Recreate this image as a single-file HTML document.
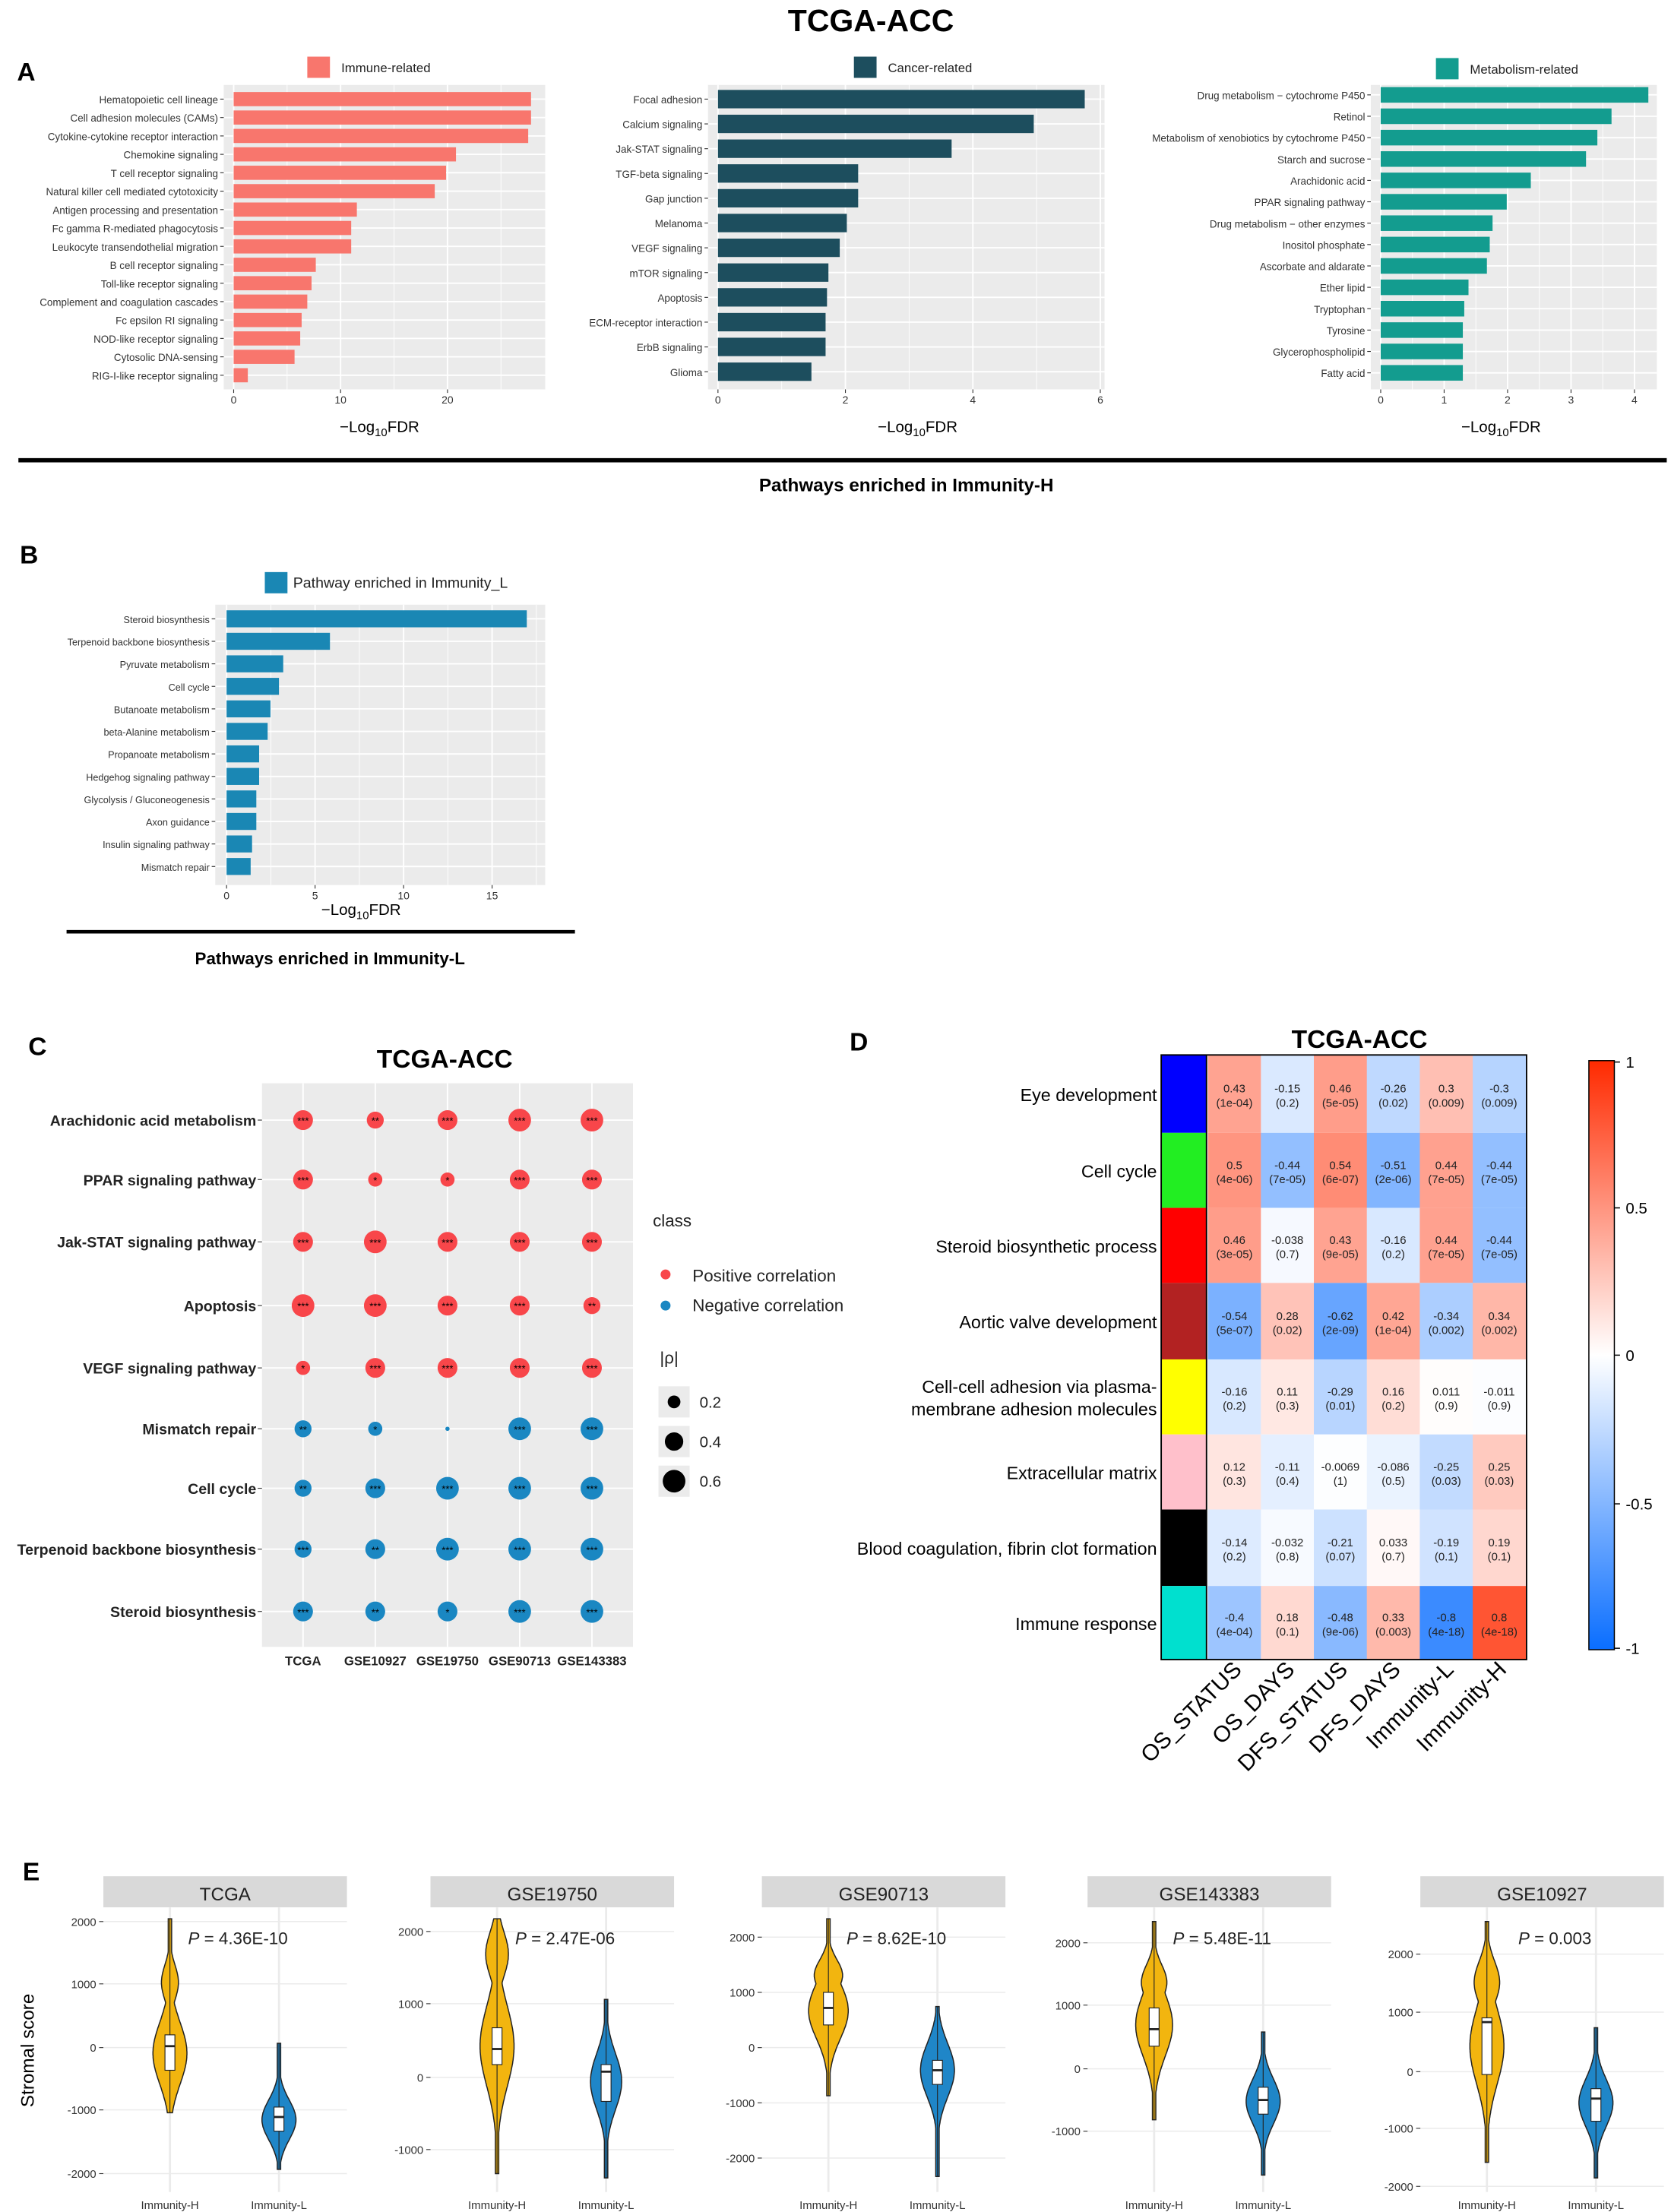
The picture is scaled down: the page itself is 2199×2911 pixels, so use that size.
<!DOCTYPE html>
<html><head><meta charset="utf-8"><style>
html,body{margin:0;padding:0;background:#fff;}
svg{display:block;font-family:"Liberation Sans",Arial,sans-serif;}
</style></head><body>
<svg id="s" xmlns="http://www.w3.org/2000/svg" width="2199" height="2911" viewBox="0 0 1180 1562.1" preserveAspectRatio="none">
<rect width="1180" height="1563" fill="#fff"/>
</svg>
<script>
const S=document.getElementById('s');let H='';
function t(x,y,s,o){o=o||{};H+=`<text x="${x}" y="${y}" font-size="${o.fs||10}" text-anchor="${o.a||'start'}" fill="${o.c||'#000'}" ${o.b?'font-weight="bold"':''} ${o.tr?`transform="${o.tr}"`:''}>${s}</text>`;}
function r(x,y,w,h,f,e){H+=`<rect x="${x}" y="${y}" width="${w}" height="${h}" fill="${f}" ${e||''}/>`;}
function l(x1,y1,x2,y2,c,w){H+=`<line x1="${x1}" y1="${y1}" x2="${x2}" y2="${y2}" stroke="${c}" stroke-width="${w||1}"/>`;}
t(615,22,'TCGA-ACC',{fs:22,b:1,a:'middle'});
t(12,57,'A',{fs:18,b:1});t(14,398,'B',{fs:18,b:1});t(20,745,'C',{fs:18,b:1});t(600,742,'D',{fs:18,b:1});t(16,1328,'E',{fs:18,b:1});
function bars(c){
 r(c.bx,c.by,c.bw,c.bh,'#ebebeb');
 const X=v=>c.x0+v*c.k;
 for(let v=0;X(v)<=c.bx+c.bw;v+=c.step/2){l(X(v),c.by,X(v),c.by+c.bh,'#fff',(v/c.step)%1==0?1:0.5);}
 c.lab.forEach((s,i)=>{const y=c.y0+i*c.dy;l(c.bx,y,c.bx+c.bw,y,'#fff',1);r(c.x0,y-c.h/2,c.ends[i]-c.x0,c.h,c.col);
  t(c.bx-4,y+3,s,{fs:c.fs||7.2,a:'end',c:'#333'});l(c.bx-2.5,y,c.bx,y,'#333',0.6);});
 for(let v=0;X(v)<=c.bx+c.bw;v+=c.step){l(X(v),c.by+c.bh,X(v),c.by+c.bh+2.5,'#333',0.6);t(X(v),c.by+c.bh+10,v,{fs:7.5,a:'middle',c:'#333'});}
 H+=`<text x="${c.tx}" y="${c.by+c.bh+(c.toff||30)}" font-size="11" text-anchor="middle">−Log<tspan font-size="8" dy="3">10</tspan><tspan dy="-3">FDR</tspan></text>`;
 r(c.lx,c.ly,16,15,c.col);t(c.lx+(c.ltx||24),c.ly+11,c.lt,{fs:c.lfs||9,c:'#222'});
}
bars({bx:158,by:60,bw:227,bh:215,x0:165,k:7.55,step:10,y0:70,dy:13,h:10,col:'#f8766d',tx:268,lx:217,ly:40,lt:'Immune-related',
lab:['Hematopoietic cell lineage','Cell adhesion molecules (CAMs)','Cytokine-cytokine receptor interaction','Chemokine signaling','T cell receptor signaling','Natural killer cell mediated cytotoxicity','Antigen processing and presentation','Fc gamma R-mediated phagocytosis','Leukocyte transendothelial migration','B cell receptor signaling','Toll-like receptor signaling','Complement and coagulation cascades','Fc epsilon RI signaling','NOD-like receptor signaling','Cytosolic DNA-sensing','RIG-I-like receptor signaling'],
ends:[375,375,373,322,315,307,252,248,248,223,220,217,213,212,208,175]});
bars({bx:500,by:60,bw:280,bh:215,x0:507,k:45,step:2,y0:70,dy:17.5,h:13,col:'#1d4e5e',tx:648,lx:603,ly:40,lt:'Cancer-related',
lab:['Focal adhesion','Calcium signaling','Jak-STAT signaling','TGF-beta signaling','Gap junction','Melanoma','VEGF signaling','mTOR signaling','Apoptosis','ECM-receptor interaction','ErbB signaling','Glioma'],
ends:[766,730,672,606,606,598,593,585,584,583,583,573]});
bars({bx:968,by:60,bw:202,bh:215,x0:975,k:44.8,step:1,y0:67,dy:15.1,h:11,col:'#139c8f',tx:1060,lx:1014,ly:41,lt:'Metabolism-related',
lab:['Drug metabolism − cytochrome P450','Retinol','Metabolism of xenobiotics by cytochrome P450','Starch and sucrose','Arachidonic acid','PPAR signaling pathway','Drug metabolism − other enzymes','Inositol phosphate','Ascorbate and aldarate','Ether lipid','Tryptophan','Tyrosine','Glycerophospholipid','Fatty acid'],
ends:[1164,1138,1128,1120,1081,1064,1054,1052,1050,1037,1034,1033,1033,1033]});
l(13,325,1177,325,'#000',3);t(640,347,'Pathways enriched in Immunity-H',{fs:13,b:1,a:'middle'});
bars({bx:152,by:427,bw:233,bh:198,x0:160,k:12.5,step:5,y0:437,dy:15.9,h:12,col:'#1a87b4',tx:255,toff:21,lx:187,ly:404,lt:'Pathway enriched in Immunity_L',ltx:20,lfs:10.5,fs:6.8,
lab:['Steroid biosynthesis','Terpenoid backbone biosynthesis','Pyruvate metabolism','Cell cycle','Butanoate metabolism','beta-Alanine metabolism','Propanoate metabolism','Hedgehog signaling pathway','Glycolysis / Gluconeogenesis','Axon guidance','Insulin signaling pathway','Mismatch repair'],
ends:[372,233,200,197,191,189,183,183,181,181,178,177]});
l(47,658,406,658,'#000',2.5);t(233,681,'Pathways enriched in Immunity-L',{fs:12,b:1,a:'middle'});
// C
t(314,754,'TCGA-ACC',{fs:18,b:1,a:'middle'});
r(185,765,262,398,'#ebebeb');
const cx=[214,265,316,367,418],ry=[791,833,877,922,966,1009,1051,1094,1138];
cx.forEach(x=>l(x,765,x,1163,'#fff',1));ry.forEach(y=>l(185,y,447,y,'#fff',1));
const rl=['Arachidonic acid metabolism','PPAR signaling pathway','Jak-STAT signaling pathway','Apoptosis','VEGF signaling pathway','Mismatch repair','Cell cycle','Terpenoid backbone biosynthesis','Steroid biosynthesis'];
const rs=[[7,6,7,8,8],[7,5,5,7,7],[7,8,7,7,7],[8,8,7,7,6],[5,7,7,7,7],[6,5,1.5,8,8],[6,7,8,8,8],[6,7,8,8,8],[7,7,7,8,8]];
const st=[['***','**','***','***','***'],['***','*','*','***','***'],['***','***','***','***','***'],['***','***','***','***','**'],['*','***','***','***','***'],['**','*','','***','***'],['**','***','***','***','***'],['***','**','***','***','***'],['***','**','*','***','***']];
rl.forEach((s,i)=>{const y=ry[i];t(181,y+4,s,{fs:10.5,b:1,a:'end',c:'#222'});l(182,y,185,y,'#333',0.6);
 cx.forEach((x,j)=>{H+=`<circle cx="${x}" cy="${y}" r="${rs[i][j]}" fill="${i<5?'#f8464a':'#1a87c2'}"/>`;if(st[i][j])t(x,y+3,st[i][j],{fs:7,a:'middle'});});});
['TCGA','GSE10927','GSE19750','GSE90713','GSE143383'].forEach((s,j)=>t(cx[j],1176,s,{fs:9,b:1,a:'middle',c:'#222'}));
t(461,866,'class',{fs:12,c:'#222'});
H+=`<circle cx="470" cy="900" r="3.5" fill="#f8464a"/><circle cx="470" cy="922" r="3.5" fill="#1a87c2"/>`;
t(489,905,'Positive correlation',{fs:12,c:'#222'});t(489,926,'Negative correlation',{fs:12,c:'#222'});
t(466,963,'|ρ|',{fs:12,c:'#222'});
[[990,4.5,'0.2'],[1018,6.5,'0.4'],[1046,8,'0.6']].forEach(a=>{r(465,a[0]-11,22,22,'#ebebeb');H+=`<circle cx="476" cy="${a[0]}" r="${a[1]}" fill="#000"/>`;t(494,a[0]+4,a[2],{fs:11,c:'#222'});});
// D
t(960,740,'TCGA-ACC',{fs:18,b:1,a:'middle'});
const yb=[745,800,853,906,960,1013,1066,1120,1172],cols=['#0000ff','#22ee22','#ff0000','#b22222','#ffff00','#ffc0cb','#000000','#00e0cf'];
const dl=['Eye development','Cell cycle','Steroid biosynthetic process','Aortic valve development',['Cell-cell adhesion via plasma-','membrane adhesion molecules'],'Extracellular matrix','Blood coagulation, fibrin clot formation','Immune response'];
const V=[[['0.43','1e-04'],['-0.15','0.2'],['0.46','5e-05'],['-0.26','0.02'],['0.3','0.009'],['-0.3','0.009']],
[['0.5','4e-06'],['-0.44','7e-05'],['0.54','6e-07'],['-0.51','2e-06'],['0.44','7e-05'],['-0.44','7e-05']],
[['0.46','3e-05'],['-0.038','0.7'],['0.43','9e-05'],['-0.16','0.2'],['0.44','7e-05'],['-0.44','7e-05']],
[['-0.54','5e-07'],['0.28','0.02'],['-0.62','2e-09'],['0.42','1e-04'],['-0.34','0.002'],['0.34','0.002']],
[['-0.16','0.2'],['0.11','0.3'],['-0.29','0.01'],['0.16','0.2'],['0.011','0.9'],['-0.011','0.9']],
[['0.12','0.3'],['-0.11','0.4'],['-0.0069','1'],['-0.086','0.5'],['-0.25','0.03'],['0.25','0.03']],
[['-0.14','0.2'],['-0.032','0.8'],['-0.21','0.07'],['0.033','0.7'],['-0.19','0.1'],['0.19','0.1']],
[['-0.4','4e-04'],['0.18','0.1'],['-0.48','9e-06'],['0.33','0.003'],['-0.8','4e-18'],['0.8','4e-18']]];
function col(v){const a=Math.min(1,Math.abs(v));const c=v>0?[255,42,0]:[10,110,255];return `rgb(${c.map(q=>Math.round(255+(q-255)*a)).join(',')})`;}
const x0=853,cw=37.4;
V.forEach((row,i)=>{const y=yb[i],h=yb[i+1]-y;r(820,y,32,h,cols[i]);
 row.forEach((c,j)=>{r(x0+j*cw,y,cw+0.3,h,col(parseFloat(c[0])));t(x0+j*cw+cw/2,y+h/2-1,c[0],{fs:8,a:'middle',c:'#222'});t(x0+j*cw+cw/2,y+h/2+9,'('+c[1]+')',{fs:8,a:'middle',c:'#222'});});
 const lb=dl[i];if(Array.isArray(lb)){t(817,y+h/2-3,lb[0],{fs:12.5,a:'end'});t(817,y+h/2+13,lb[1],{fs:12.5,a:'end'});}else t(817,y+h/2+5,lb,{fs:12.5,a:'end'});});
r(820,745,258,427,'none','stroke="#000" stroke-width="1"');l(852,745,852,1172,'#000',1);
['OS_STATUS','OS_DAYS','DFS_STATUS','DFS_DAYS','Immunity-L','Immunity-H'].forEach((s,j)=>{const x=x0+j*cw+cw/2+6;t(x,1180,s,{fs:16,a:'end',tr:`rotate(-45 ${x} 1180)`});});
H+='<defs><linearGradient id="g" x1="0" y1="0" x2="0" y2="1"><stop offset="0" stop-color="#ff2a00"/><stop offset="0.5" stop-color="#fff"/><stop offset="1" stop-color="#0a6eff"/></linearGradient></defs>';
r(1122,749,18,416,'url(#g)','stroke="#000" stroke-width="0.8"');
[[750,'1'],[853,'0.5'],[957,'0'],[1062,'-0.5'],[1164,'-1']].forEach(a=>{l(1140,a[0],1144,a[0],'#000',0.8);t(1148,a[0]+4,a[1],{fs:11});});
// E
t(24,1448,'Stromal score',{fs:13,a:'middle',tr:'rotate(-90 24 1448)'});
const P=[{x:73,title:'TCGA',p:'4.36E-10',ticks:[[2000,1357],[1000,1401],[0,1446],[-1000,1490],[-2000,1535]],
 H:{t:1355,b:1492,c:1450,w:12,c2:1400,w2:6,bx:[1437,1462],m:1445},L:{t:1443,b:1532,c:1497,w:12,bx:[1488,1505],m:1495}},
{x:304,title:'GSE19750',p:'2.47E-06',ticks:[[2000,1364],[1000,1415],[0,1467],[-1000,1518]],
 H:{t:1355,b:1535,c:1445,w:12,c2:1380,w2:8,bx:[1432,1458],m:1447},L:{t:1412,b:1538,c:1470,w:11,bx:[1458,1484],m:1463}},
{x:538,title:'GSE90713',p:'8.62E-10',ticks:[[2000,1368],[1000,1407],[0,1446],[-1000,1485],[-2000,1524]],
 H:{t:1355,b:1480,c:1420,w:14,c2:1395,w2:10,bx:[1407,1430],m:1418},L:{t:1417,b:1537,c:1462,w:12,bx:[1455,1472],m:1462}},
{x:768,title:'GSE143383',p:'5.48E-11',ticks:[[2000,1372],[1000,1416],[0,1461],[-1000,1505]],
 H:{t:1357,b:1497,c:1430,w:13,c2:1400,w2:9,bx:[1418,1445],m:1433},L:{t:1435,b:1536,c:1484,w:12,bx:[1474,1493],m:1483}},
{x:1003,title:'GSE10927',p:'0.003',ticks:[[2000,1380],[1000,1421],[0,1463],[-1000,1503],[-2000,1544]],
 H:{t:1357,b:1527,c:1445,w:12,c2:1400,w2:9,bx:[1425,1465],m:1428},L:{t:1432,b:1538,c:1485,w:12,bx:[1475,1498],m:1482}}];
function vio(cx,v,f){let L=[],R=[];for(let y=v.t;y<=v.b;y+=1){let w=v.w*Math.exp(-Math.pow((y-v.c)/((v.b-v.t)/4.5),2));if(v.c2)w=Math.max(w,v.w2*Math.exp(-Math.pow((y-v.c2)/((v.b-v.t)/8),2)));w=Math.max(w,1.2);L.push([cx-w,y]);R.unshift([cx+w,y]);}
 H+=`<path d="M${L.concat(R).map(p=>p[0].toFixed(1)+','+p[1]).join(' L')}Z" fill="${f}" stroke="#222" stroke-width="0.8"/>`;
 l(cx,v.t,cx,v.b,'#222',0.6);r(cx-3.5,v.bx[0],7,v.bx[1]-v.bx[0],'#fff','stroke="#222" stroke-width="0.6"');l(cx-3.5,v.m,cx+3.5,v.m,'#222',1.5);}
P.forEach(p=>{const x=p.x,w=172;r(x,1325,w,22,'#d9d9d9');t(x+w/2,1342,p.title,{fs:13,a:'middle',c:'#222'});
 r(x,1347,w,201,'#fff');
 p.ticks.forEach(a=>{l(x,a[1],x+w,a[1],'#ebebeb',0.8);l(x-3,a[1],x,a[1],'#333',0.6);t(x-5,a[1]+3,a[0],{fs:8,a:'end',c:'#333'});});
 const hx=x+47,lx=x+124;l(hx,1347,hx,1548,'#ebebeb',1.5);l(lx,1347,lx,1548,'#ebebeb',1.5);
 vio(hx,p.H,'#f2b50f');vio(lx,p.L,'#1f86c8');
 H+=`<text x="${x+w/2+9}" y="${1373}" font-size="12" text-anchor="middle" fill="#222"><tspan font-style="italic">P</tspan> = ${p.p}</text>`;
 t(hx,1560,'Immunity-H',{fs:8,a:'middle',c:'#333'});t(lx,1560,'Immunity-L',{fs:8,a:'middle',c:'#333'});});
S.insertAdjacentHTML('beforeend',H);
</script>
</body></html>
